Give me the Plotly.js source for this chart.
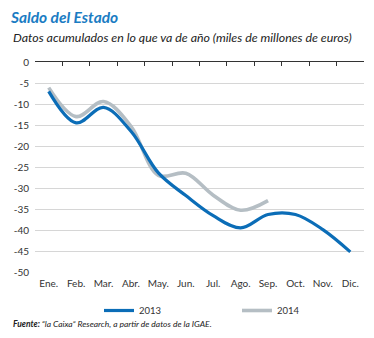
<!DOCTYPE html>
<html><head><meta charset="utf-8">
<script src="https://cdn.plot.ly/plotly-3.0.1.min.js"></script>
<style>html,body{margin:0;padding:0;background:#fff}#c{width:374px;height:338px}</style>
</head><body><div id="c"></div>
<script>
const months = ["Ene.","Feb.","Mar.","Abr.","May.","Jun.","Jul.","Ago.","Sep.","Oct.","Nov.","Dic."];
const idx2013 = [0,1,2,3,4,5,6,7,8,9,10,11];
const saldo2013 = [-7,-14.5,-10.8,-16.5,-26.4,-31.8,-36.6,-39.5,-36.3,-36.3,-39.9,-45.2];
const idx2014 = [0,1,2,3,4,5,6,7,8];
const saldo2014 = [-6.1,-13,-9.4,-15.3,-27,-26.5,-31.7,-35.3,-33];
const yTicks = [0,-5,-10,-15,-20,-25,-30,-35,-40,-45,-50];
const boundaries = [-0.5,0.5,1.5,2.5,3.5,4.5,5.5,6.5,7.5,8.5,9.5,10.5,11.5];

const F = "Lato, 'Open Sans', sans-serif";
const data = [
  {x: [null], y: [null], xaxis: "x2", showlegend: false, hoverinfo: "skip"},
  {x: idx2014, y: saldo2014, name: "2014", type: "scatter", mode: "lines",
   line: {color: "#b5bec4", width: 3.6, shape: "spline", smoothing: 1}},
  {x: idx2013, y: saldo2013, name: "2013", type: "scatter", mode: "lines",
   line: {color: "#0b6db7", width: 3.2, shape: "spline", smoothing: 1}}
];
const layout = {
  width: 374, height: 338,
  margin: {l: 35, r: 10, t: 62, b: 66, autoexpand: false},
  paper_bgcolor: "#fff", plot_bgcolor: "#fff",
  font: {family: F, color: "#333", size: 10},
  showlegend: true,
  title: {text: "<b><i>Saldo del Estado</i></b>", xref: "container", yref: "container",
          x: 11/374, xanchor: "left", y: 1 - 18/338, yanchor: "middle",
          font: {family: F, size: 15.5, color: "#1a7cc3"}},
  xaxis: {range: [-0.5, 11.5], tickvals: idx2013, ticktext: months, showgrid: false,
          zeroline: false, showline: false, ticks: "", fixedrange: true, ticklabelstandoff: 4,
          tickfont: {size: 10, color: "#333"}},
  xaxis2: {overlaying: "x", side: "top", anchor: "y", range: [-0.5, 11.5], tickvals: boundaries,
           showticklabels: false, ticks: "inside", ticklen: 4, tickcolor: "#333", tickwidth: 1,
           showline: true, linecolor: "#333", linewidth: 1, showgrid: false, zeroline: false},
  yaxis: {range: [-50, 0], tickvals: yTicks, ticktext: yTicks.map(String), showgrid: true,
          gridcolor: "#d6d6d6", gridwidth: 1, zeroline: false, showline: false, ticks: "",
          ticklabelstandoff: 5, tickfont: {size: 10, color: "#333"}},
  legend: {orientation: "h", xref: "container", yref: "container", x: 99/374, xanchor: "left",
           y: 1 - 296/338, yanchor: "top",
           entrywidth: 93, entrywidthmode: "pixels", traceorder: "reversed",
           font: {size: 9.5, color: "#333"}, bgcolor: "rgba(0,0,0,0)"},
  annotations: [
    {text: "<i>Datos acumulados en lo que va de año (miles de millones de euros)</i>",
     xref: "paper", yref: "paper", x: -24/329, y: 1 + (62-38)/210, xanchor: "left", yanchor: "middle",
     showarrow: false, font: {family: F, size: 12.4, color: "#222"}},
    {text: "<b><i>Fuente:</i></b><i> “la Caixa” Research, a partir de datos de la IGAE.</i>",
     xref: "paper", yref: "paper", x: -24/329, y: -(324-272)/210, xanchor: "left", yanchor: "middle",
     showarrow: false, font: {family: F, size: 8.5, color: "#222"}}
  ]
};
Plotly.newPlot("c", data, layout, {displayModeBar: false, staticPlot: true});
</script></body></html>
